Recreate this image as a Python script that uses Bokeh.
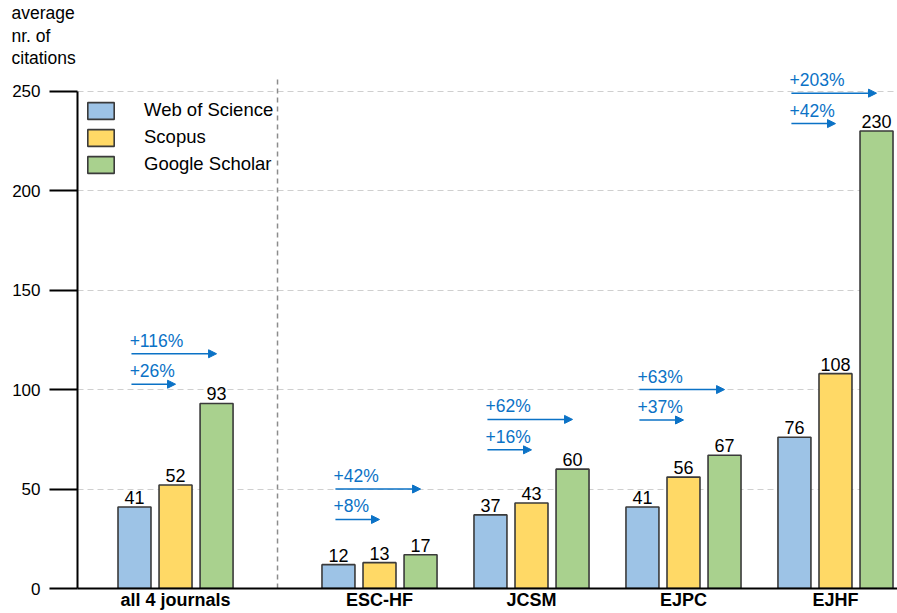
from bokeh.plotting import figure
from bokeh.models import (ColumnDataSource, FixedTicker, Legend, LegendItem, Arrow,
                          NormalHead, Range1d, Label, Title)
from bokeh.core.properties import value
from bokeh.embed import file_html
from bokeh.resources import INLINE

# ---- data ----
groups = ["all 4 journals", "ESC-HF", "JCSM", "EJPC", "EJHF"]
wos = [41, 12, 37, 41, 76]
scopus = [52, 13, 43, 56, 108]
gscholar = [93, 17, 60, 67, 230]
pct_scopus = ["+26%", "+8%", "+16%", "+37%", "+42%"]
pct_gscholar = ["+116%", "+42%", "+62%", "+63%", "+203%"]
series_names = ["Web of Science", "Scopus", "Google Scholar"]
y_ticks = [0, 50, 100, 150, 200, 250]

# ---- layout (positions / styles) ----
centers = [0.0, 1.342, 2.342, 3.342, 4.342]
bar_w = 0.217
offset = 0.27
arrow_top_y = [118, 50, 85, 100, 249]   # annotation heights of the upper arrows
arrow_gap = 15.3
colors = ["#9DC3E6", "#FFD966", "#A9D18E"]
outline = "#3a3a3a"
blue = "#0B72C6"
FONT = "Liberation Sans"

p = figure(width=897, height=613, output_backend="svg", toolbar_location=None,
           x_range=Range1d(-0.645, 4.75), y_range=Range1d(0, 261.4),
           min_border_left=77, min_border_right=0, min_border_top=68, min_border_bottom=25)
p.outline_line_color = None
p.background_fill_color = "white"

# y-axis title (top-left, above the axis)
p.add_layout(Title(text="average\nnr. of\ncitations", align="left", offset=-66,
                   text_font=FONT, text_font_size="17.5px", text_font_style="normal",
                   text_color="black", standoff=0, text_line_height=1.13), "above")

# grid
p.xgrid.visible = False
p.ygrid.ticker = FixedTicker(ticks=y_ticks[1:])
p.ygrid.grid_line_color = "#cfcfcf"
p.ygrid.grid_line_dash = "6 4"
p.ygrid.grid_line_width = 1.2

# y axis
ya = p.yaxis[0]
ya.ticker = FixedTicker(ticks=y_ticks)
ya.bounds = (0, 250)
ya.axis_line_width = 2
ya.axis_line_color = "black"
ya.major_tick_line_width = 2
ya.major_tick_out = 28
ya.major_tick_in = 0
ya.minor_tick_line_color = None
ya.major_label_standoff = 9
ya.major_label_text_font = FONT
ya.major_label_text_font_size = "17px"
ya.major_label_text_color = "black"

# x axis
xa = p.xaxis[0]
xa.ticker = FixedTicker(ticks=centers)
xa.major_label_overrides = {c: g for c, g in zip(centers, groups)}
xa.axis_line_width = 2
xa.axis_line_color = "black"
xa.major_tick_line_color = None
xa.minor_tick_line_color = None
xa.major_tick_out = 0
xa.major_tick_in = 0
xa.major_label_standoff = 1
xa.major_label_text_font = FONT
xa.major_label_text_font_style = "bold"
xa.major_label_text_font_size = "18px"
xa.major_label_text_color = "black"

# separator between overall group and journals
sep_x = (centers[0] + centers[1]) / 2
p.segment(x0=[sep_x], y0=[0], x1=[sep_x], y1=[257],
          line_color="#8c8c8c", line_width=1.5, line_dash="5 4")

# bars
renderers = []
for i, (vals, col) in enumerate(zip([wos, scopus, gscholar], colors)):
    xs = [c + (i - 1) * offset for c in centers]
    src = ColumnDataSource(dict(x=xs, top=vals, lab=[str(v) for v in vals]))
    r = p.vbar(x="x", top="top", width=bar_w, source=src, fill_color=col,
               line_color=outline, line_width=1.6)
    renderers.append(r)
    p.text(x="x", y="top", text="lab", source=src, text_align="center",
           text_baseline="bottom", y_offset=-3, text_font=value(FONT),
           text_font_size="18px", text_color="black")

# arrows + percentage labels
for k, c in enumerate(centers):
    x_start = c - offset - 0.02
    y_up = arrow_top_y[k]
    y_lo = y_up - arrow_gap
    for (y, x_end, txt) in [(y_up, c + offset, pct_gscholar[k]), (y_lo, c, pct_scopus[k])]:
        p.add_layout(Arrow(x_start=x_start, y_start=y, x_end=x_end, y_end=y,
                           line_color=blue, line_width=1.5,
                           end=NormalHead(size=8, fill_color=blue, line_color=blue)))
        p.add_layout(Label(x=x_start - 0.012, y=y, text=txt, y_offset=3,
                           text_font=FONT, text_font_size="17.5px", text_color=blue,
                           text_baseline="bottom", text_align="left"))

# legend
legend = Legend(items=[LegendItem(label=n, renderers=[r]) for n, r in zip(series_names, renderers)],
                location=(7, 413), orientation="vertical", padding=0, margin=0,
                glyph_width=33, glyph_height=21, label_standoff=27, spacing=5,
                label_text_font=FONT, label_text_font_size="18.5px", label_text_color="black",
                border_line_color=None, background_fill_alpha=0)
p.add_layout(legend, "center")

open("out.html", "w").write(file_html(p, INLINE))
